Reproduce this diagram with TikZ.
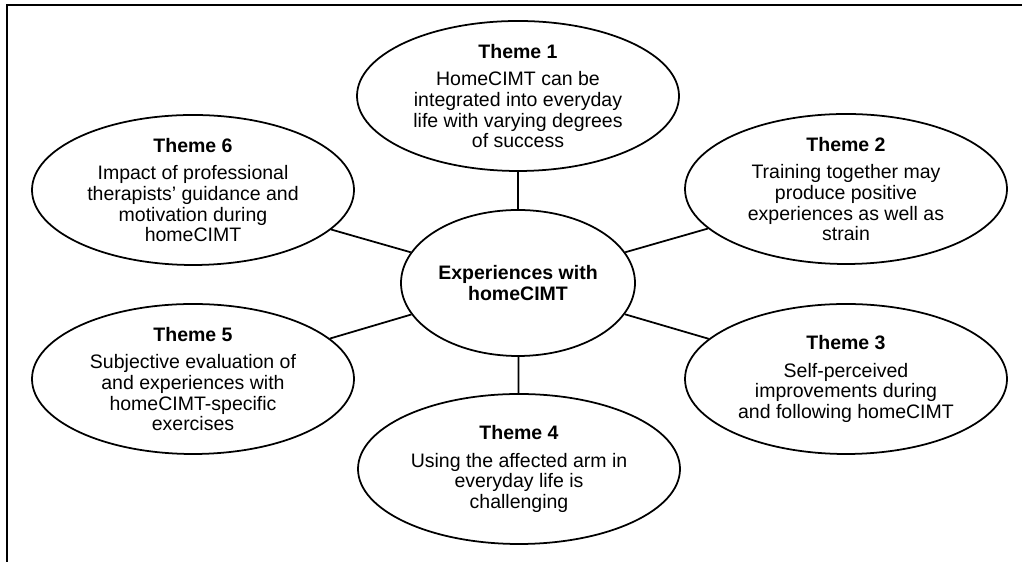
\documentclass[tikz,border=0pt]{standalone}
\usepackage{fontspec}
\setmainfont{Liberation Sans}
\usetikzlibrary{shapes.geometric}
\begin{document}
\begin{tikzpicture}[line width=1pt,
    theme/.style={draw, ellipse, inner sep=0pt, minimum width=6.44cm, minimum height=3cm, align=center,
      font=\fontsize{11.1pt}{11.8pt}\selectfont},
    hub/.style={theme, minimum width=4.68cm, minimum height=2.92cm, font=\fontsize{11.1pt}{11.8pt}\selectfont\bfseries}]
\useasboundingbox (0,0) rectangle (20.44,11.24);
\draw (20.44,11.14)--(0.14,11.14)--(0.14,0);
\node[hub] (exp) at (10.36,5.58) {Experiences with\\homeCIMT};
\node[theme] (th1) at (10.36,9.32) {\textbf{Theme 1}\\[3.9pt]HomeCIMT can be\\integrated into everyday\\life with varying degrees\\of success};
\node[theme] (th2) at (16.92,7.46) {\textbf{Theme 2}\\[3.9pt]Training together may\\produce positive\\experiences as well as\\strain};
\node[theme] (th3) at (16.92,3.66) {\textbf{Theme 3}\\[3.9pt]Self-perceived\\improvements during\\and following homeCIMT};
\node[theme] (th4) at (10.38,1.86) {\textbf{Theme 4}\\[3.9pt]Using the affected arm in\\everyday life is\\challenging};
\node[theme] (th5) at (3.86,3.66) {\textbf{Theme 5}\\[3.9pt]Subjective evaluation of\\and experiences with\\homeCIMT-specific\\exercises};
\node[theme] (th6) at (3.86,7.44) {\textbf{Theme 6}\\[3.9pt]Impact of professional\\therapists’ guidance and\\motivation during\\homeCIMT};
\foreach \t in {th1,th2,th3,th4,th5,th6}
  \draw (exp)--(\t);
\end{tikzpicture}
\end{document}
